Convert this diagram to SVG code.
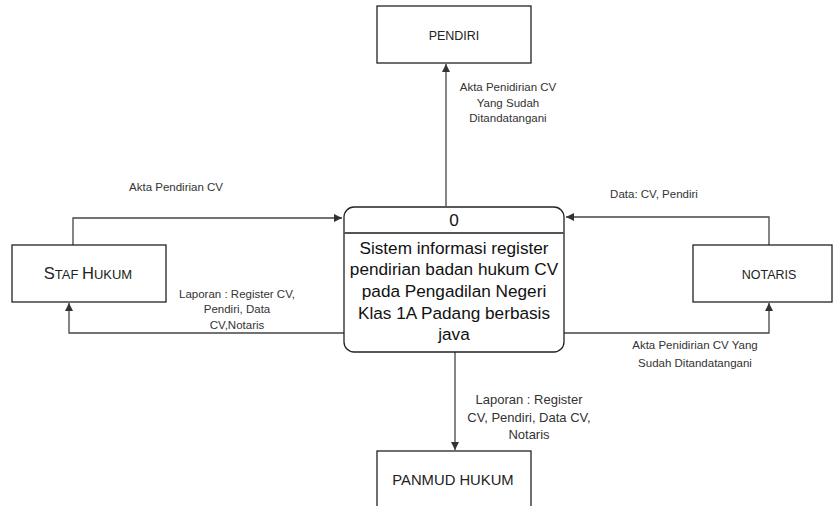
<svg xmlns="http://www.w3.org/2000/svg" width="835" height="506" viewBox="0 0 835 506">
<style>
  .box{fill:#fff;stroke:#222;stroke-width:1.3}
  .ent{font-family:"Liberation Sans",Arial,sans-serif;font-size:12.5px;fill:#222;text-anchor:middle}
  .proc{font-family:"Liberation Sans",Arial,sans-serif;font-size:17.2px;fill:#111;text-anchor:middle}
  .lbl{font-family:"Liberation Sans",Arial,sans-serif;font-size:11.5px;fill:#333;text-anchor:middle}
  .lbl2{font-size:13px}
  .big{font-size:16.5px}
  .pan{font-size:14.8px}
  .sc{font-size:13px}
  .con{fill:none;stroke:#444;stroke-width:1.3}
</style>
<defs>
  <marker id="ah" viewBox="0 0 10 10" refX="10" refY="5" markerWidth="8" markerHeight="8" markerUnits="userSpaceOnUse" orient="auto">
    <path d="M0,0 L10,5 L0,10 z" fill="#333"/>
  </marker>
</defs>
<rect width="835" height="506" fill="#fff"/>
<g id="connectors">
  <path class="con" d="M446,206 L446,64" marker-end="url(#ah)"/>
  <path class="con" d="M73,245 L73,218 L342,218" marker-end="url(#ah)"/>
  <path class="con" d="M344,333 L69,333 L69,303" marker-end="url(#ah)"/>
  <path class="con" d="M769,245 L769,217 L566,217" marker-end="url(#ah)"/>
  <path class="con" d="M564,333 L769,333 L769,303" marker-end="url(#ah)"/>
  <path class="con" d="M455,352 L455,450" marker-end="url(#ah)"/>
</g>
<g id="labels">
  <text class="lbl" x="508" y="91">Akta Penidirian CV</text>
  <text class="lbl" x="508" y="107">Yang Sudah</text>
  <text class="lbl" x="508" y="122">Ditandatangani</text>
  <text class="lbl" x="176" y="191">Akta Pendirian CV</text>
  <text class="lbl" x="237" y="298">Laporan : Register CV,</text>
  <text class="lbl" x="237" y="313">Pendiri, Data</text>
  <text class="lbl" x="237" y="329">CV,Notaris</text>
  <text class="lbl" x="654" y="198">Data: CV, Pendiri</text>
  <text class="lbl" x="695" y="349">Akta Penidirian CV Yang</text>
  <text class="lbl" x="695" y="367">Sudah Ditandatangani</text>
  <text class="lbl lbl2" x="529" y="404">Laporan : Register</text>
  <text class="lbl lbl2" x="529" y="422">CV, Pendiri, Data CV,</text>
  <text class="lbl lbl2" x="529" y="439">Notaris</text>
</g>
<g id="pendiri">
  <rect class="box" x="377" y="6" width="154" height="57"/>
  <text class="ent" x="454" y="40">PENDIRI</text>
</g>
<g id="staf-hukum">
  <rect class="box" x="12" y="245" width="154" height="57"/>
  <text class="ent sc" x="88" y="279"><tspan class="big">S</tspan>TAF <tspan class="big">H</tspan>UKUM</text>
</g>
<g id="notaris">
  <rect class="box" x="693" y="245" width="139" height="57"/>
  <text class="ent" x="769" y="279">NOTARIS</text>
</g>
<g id="panmud-hukum">
  <rect class="box" x="377" y="451" width="154" height="60"/>
  <text class="ent pan" x="453" y="485">PANMUD HUKUM</text>
</g>
<g id="process-0">
  <rect class="box" x="344" y="207" width="220" height="145" rx="10" ry="10"/>
  <line x1="344" y1="233" x2="564" y2="233" stroke="#555" stroke-width="1.8"/>
  <text class="proc" x="454" y="226">0</text>
  <text class="proc" x="454" y="254">Sistem informasi register</text>
  <text class="proc" x="454" y="275">pendirian badan hukum CV</text>
  <text class="proc" x="454" y="297">pada Pengadilan Negeri</text>
  <text class="proc" x="454" y="319">Klas 1A Padang berbasis</text>
  <text class="proc" x="454" y="340">java</text>
</g>
</svg>
